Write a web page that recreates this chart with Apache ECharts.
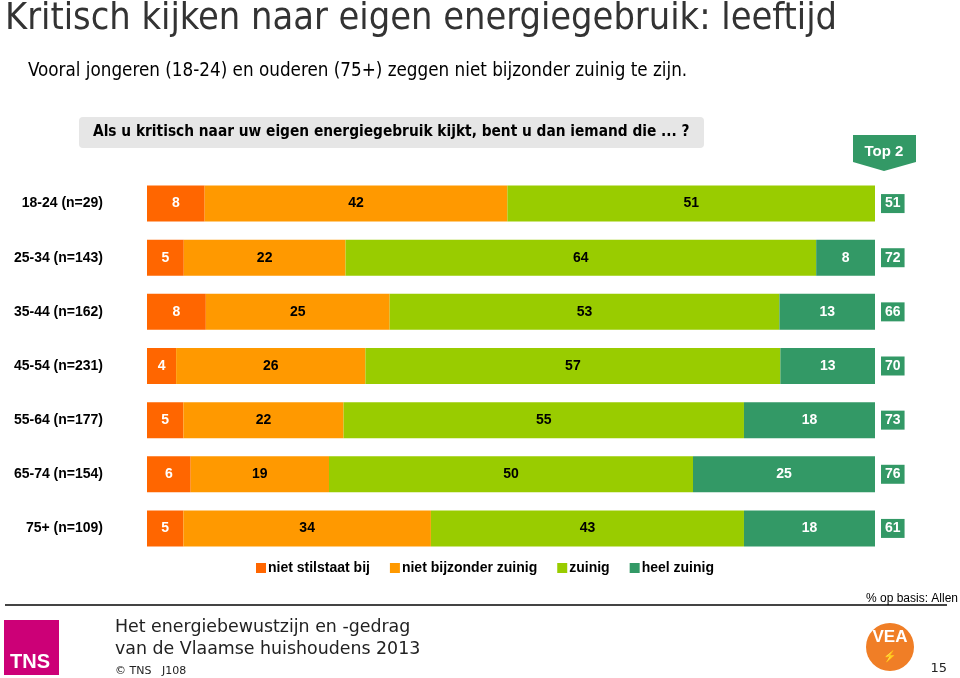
<!DOCTYPE html>
<html><head><meta charset="utf-8">
<script src="https://cdn.jsdelivr.net/npm/echarts@6/dist/echarts.min.js"></script>
<style>html,body{margin:0;padding:0;background:#fff}#c{width:960px;height:678px}</style>
</head><body><div id="c"></div>
<script>
const categories = ['18-24 (n=29)','25-34 (n=143)','35-44 (n=162)','45-54 (n=231)','55-64 (n=177)','65-74 (n=154)','75+ (n=109)'];
const seriesNames = ['niet stilstaat bij','niet bijzonder zuinig','zuinig','heel zuinig'];
const nietStilstaat = [8,5,8,4,5,6,5];
const nietBijzonder = [42,22,25,26,22,19,34];
const zuinig = [51,64,53,57,55,50,43];
const heelZuinig = [0,8,13,13,18,25,18];
const top2 = [51,72,66,70,73,76,61];
const colors = ['#FF6600','#FF9900','#99CC00','#339966'];
const labelColors = ['#fff','#000','#000','#fff'];

const raw = [nietStilstaat,nietBijzonder,zuinig,heelZuinig];
const sums = categories.map((c,i)=>raw.reduce((s,a)=>s+a[i],0));

const chart = echarts.init(document.getElementById('c'));
const font = 'Liberation Sans, Arial, sans-serif';
const cond = 'DejaVu Sans Condensed, DejaVu Sans';
chart.setOption({
  animation:false,
  legend:{
    data:seriesNames,top:556,left:251,itemWidth:10,itemHeight:10,itemGap:20,icon:'rect',
    textStyle:{fontFamily:font,fontSize:14,fontWeight:'bold',color:'#000',padding:[0,0,0,-3]}
  },
  grid:{left:147,right:85,top:176.5,bottom:122.5,containLabel:false},
  xAxis:{type:'value',min:0,max:100,show:false},
  yAxis:[
    {type:'category',data:categories,inverse:true,axisLine:{show:false},axisTick:{show:false},
     axisLabel:{margin:44,fontFamily:font,fontSize:14,fontWeight:'bold',color:'#000'}},
    {type:'category',data:top2.map(String),inverse:true,position:'right',axisLine:{show:false},axisTick:{show:false},
     axisLabel:{margin:6,fontFamily:font,fontSize:14,fontWeight:'bold',color:'#fff',backgroundColor:'#339966',padding:[3,4,2,4]}}
  ],
  series: seriesNames.map((name,k)=>({
    name,type:'bar',stack:'total',barWidth:36,
    itemStyle:{color:colors[k]},
    label:{show:true,position:'inside',fontFamily:font,fontSize:14,fontWeight:'bold',color:labelColors[k],
      formatter:p=> raw[k][p.dataIndex] ? String(raw[k][p.dataIndex]) : ''},
    data: raw[k].map((v,i)=> v/sums[i]*100)
  })),
  graphic:[
    {type:'text',x:5,y:0,style:{text:'Kritisch kijken naar eigen energiegebruik: leeftijd',fontFamily:cond,fontSize:37.6,fill:'#333',verticalAlign:'top'}},
    {type:'text',x:28,y:62,style:{text:'Vooral jongeren (18-24) en ouderen (75+) zeggen niet bijzonder zuinig te zijn.',fontFamily:cond,fontSize:18.7,fill:'#000',verticalAlign:'top'}},
    {type:'rect',shape:{x:79,y:117,width:625,height:31,r:4},style:{fill:'#e6e6e6'}},
    {type:'text',x:93,y:132,style:{text:'Als u kritisch naar uw eigen energiegebruik kijkt, bent u dan iemand die ... ?',fontFamily:cond,fontSize:15.3,fontWeight:'bold',fill:'#000',verticalAlign:'middle'}},
    {type:'polygon',shape:{points:[[853,135],[916,135],[916,162],[884,171],[853,162]]},style:{fill:'#339966'}},
    {type:'text',x:884,y:152,style:{text:'Top 2',fontFamily:font,fontSize:15,fontWeight:'bold',fill:'#fff',align:'center',verticalAlign:'middle'}},
    {type:'line',shape:{x1:5,y1:605,x2:947,y2:605},style:{stroke:'#444',lineWidth:2}},
    {type:'text',x:958,y:599,style:{text:'% op basis: Allen',fontFamily:font,fontSize:12,fill:'#000',align:'right',verticalAlign:'middle'}},
    {type:'rect',shape:{x:4,y:620,width:55,height:55},style:{fill:'#CC0077'}},
    {type:'text',x:30,y:662,style:{text:'TNS',fontFamily:font,fontSize:20,fontWeight:'bold',fill:'#fff',align:'center',verticalAlign:'middle'}},
    {type:'text',x:115,y:627,style:{text:'Het energiebewustzijn en -gedrag',fontFamily:'DejaVu Sans',fontSize:17.4,fill:'#222',verticalAlign:'middle'}},
    {type:'text',x:115,y:649,style:{text:'van de Vlaamse huishoudens 2013',fontFamily:'DejaVu Sans',fontSize:17.4,fill:'#222',verticalAlign:'middle'}},
    {type:'text',x:115,y:671,style:{text:'© TNS   J108',fontFamily:'DejaVu Sans',fontSize:11,fill:'#222',verticalAlign:'middle'}},
    {type:'circle',shape:{cx:890,cy:647,r:24},style:{fill:'#F07E26'}},
    {type:'text',x:890,y:637,style:{text:'VEA',fontFamily:font,fontSize:17,fontWeight:'bold',fill:'#fff',align:'center',verticalAlign:'middle'}},
    {type:'text',x:890,y:657,style:{text:'⚡',fontFamily:font,fontSize:11,fill:'#fff',align:'center',verticalAlign:'middle'}},
    {type:'text',x:947,y:669,style:{text:'15',fontFamily:'DejaVu Sans',fontSize:13,fill:'#222',align:'right',verticalAlign:'middle'}}
  ]
});
</script></body></html>
